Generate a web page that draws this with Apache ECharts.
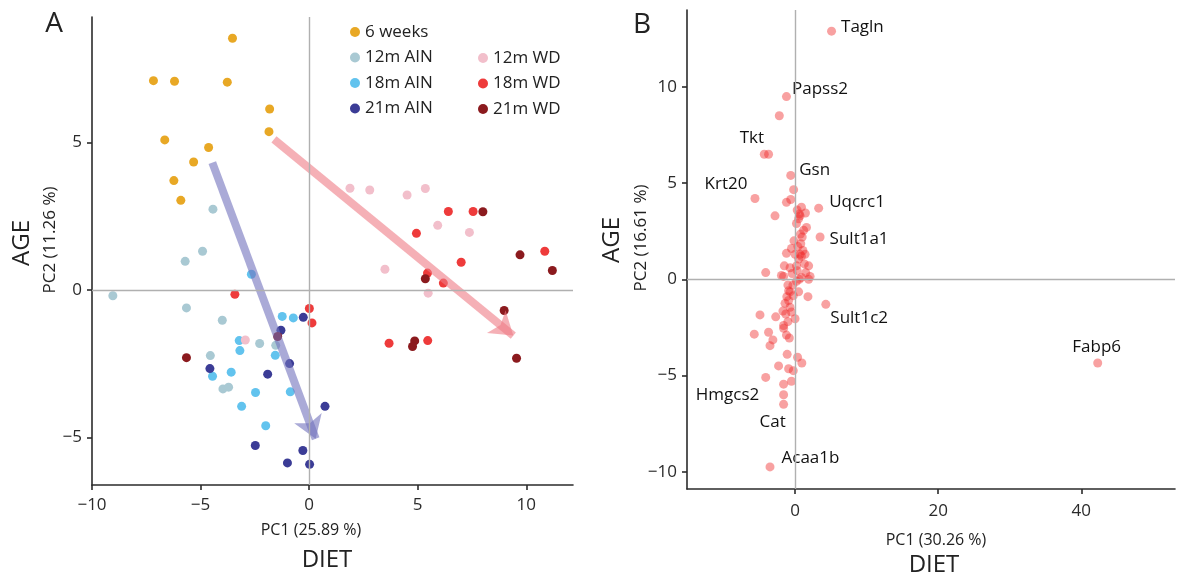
<!DOCTYPE html>
<html><head><meta charset="utf-8">
<script src="https://cdn.jsdelivr.net/npm/echarts@6/dist/echarts.min.js"></script>
<style>html,body{margin:0;padding:0;background:#fff}#c{width:1180px;height:576px}</style>
</head><body><div id="c"></div>
<script>
// ---------- Panel A data (samples) ----------
const groupNames = ['6 weeks','12m AIN','18m AIN','21m AIN','12m WD','18m WD','21m WD'];
const weeks6X = [-3.53,-7.17,-6.20,-3.77,-1.82,-1.85,-6.65,-4.63,-5.32,-6.23,-5.91];
const weeks6Y = [8.54,7.10,7.08,7.05,6.14,5.37,5.09,4.83,4.34,3.71,3.04];
const ain12X = [-4.43,-4.91,-5.71,-9.04,-5.65,-4.00,-2.28,-1.54,-4.55,-3.97,-3.71];
const ain12Y = [2.74,1.31,0.97,-0.20,-0.61,-1.03,-1.82,-1.88,-2.23,-3.36,-3.30];
const ain18X = [-2.66,-1.24,-0.73,-3.22,-3.19,-1.56,-3.59,-4.45,-2.47,-0.87,-3.11,-2.00];
const ain18Y = [0.53,-0.90,-0.95,-1.72,-2.06,-2.22,-2.79,-2.93,-3.48,-3.46,-3.95,-4.61];
const ain21X = [-0.27,-1.30,-0.90,-4.57,-1.91,0.73,-2.48,-0.29,-1.00,0.02];
const ain21Y = [-0.93,-1.37,-2.50,-2.67,-2.86,-3.95,-5.28,-5.45,-5.87,-5.92];
const wd12X = [1.88,2.79,4.51,5.35,5.92,7.38,3.49,5.48,-2.94];
const wd12Y = [3.45,3.39,3.22,3.44,2.19,1.95,0.70,-0.11,-1.70];
const wd18X = [6.41,7.55,4.94,7.00,10.85,5.45,6.18,3.68,5.46,-3.42,0.01,0.13];
const wd18Y = [2.66,2.66,1.92,0.94,1.31,0.57,0.23,-1.81,-1.72,-0.15,-0.63,-1.12];
const wd21X = [8.00,9.71,11.20,5.35,8.98,9.55,4.86,4.76,-5.65,-1.45];
const wd21Y = [2.65,1.19,0.66,0.38,-0.70,-2.32,-1.73,-1.92,-2.30,-1.58];
// trend arrows (from -> to)
const ainArrow = [[-4.46,4.32],[0.30,-5.05]];
const wdArrow = [[-1.62,5.11],[9.40,-1.55]];
// ticks
const ticksAX = [-10,-5,0,5,10];
const ticksAY = [-5,0,5];

// ---------- Panel B data (genes) ----------
const geneNames = ['Tagln','Papss2','Tkt','Gsn','Krt20','Uqcrc1','Sult1a1','Sult1c2','Fabp6','Hmgcs2','Cat','Acaa1b'];
const geneX = [5.1,-1.2,-3.7,-0.6,-5.6,3.3,3.5,4.3,42.3,-4.1,-1.6,-3.5];
const geneY = [12.9,9.5,6.5,5.4,4.2,3.7,2.2,-1.3,-4.35,-5.1,-6.5,-9.75];
const otherGeneX = [-2.2,-4.3,-0.2,-2.8,-4.1,-1.2,-0.6,0.9,0.3,1.45,0.5,1.6,1.2,0.75,-0.15,0.8,1.1,-1.2,0.0,0.5,1.3,1.9,-1.5,-0.7,-1.9,2.1,-1.6,0.9,1.9,
  -0.7,0.5,-1.15,-0.25,1.8,-1.4,-0.7,-1.7,-2.7,0.0,-4.9,-1.6,-1.6,-5.7,-3.7,-3.1,-3.5,-0.8,-1.1,0.35,0.95,-2.3,-0.9,-0.25,-0.5,-1.6,-1.6,
  -1.0,-0.3,-1.3,-1.0,-0.9,0.3,0.7,-0.5,
  0.6,0.2,1.0,0.4,0.9,0.2,1.4,-0.4,0.6,-0.9,-0.5,-1.2,0.2,0.7,1.5];
const otherGeneY = [8.5,6.5,4.66,3.3,0.35,4.0,4.15,3.75,3.6,3.45,3.15,2.7,2.55,2.35,2.0,1.85,1.5,1.35,1.3,1.05,0.8,0.7,0.7,0.6,0.2,0.15,0.15,0.1,0.0,
  -0.65,-0.65,-0.9,-0.85,-0.9,-1.25,-1.45,-1.65,-1.95,-2.05,-1.85,-2.4,-2.55,-2.85,-2.75,-3.15,-3.45,-3.05,-3.9,-4.05,-4.35,-4.5,-4.65,-4.75,-5.3,-5.45,-6.0,
  -0.3,-0.3,-1.8,-2.2,-1.1,0.45,1.3,1.6,
  3.4,2.9,2.2,1.7,1.2,0.7,1.3,0.3,0.0,-0.6,-1.7,-2.9,-0.1,3.3,0.35];
const ticksBX = [0,20,40];
const ticksBY = [-10,-5,0,5,10];

// ---------- styling ----------
const FF = '"Open Sans", "Noto Sans", sans-serif';
const groupColors = ['#E8A825','#A9C9D3','#62C3EE','#3B3C96','#F2BFCB','#EE3B3B','#8B1A1E'];
const groupXs = [weeks6X, ain12X, ain18X, ain21X, wd12X, wd18X, wd21X];
const groupYs = [weeks6Y, ain12Y, ain18Y, ain21Y, wd12Y, wd18Y, wd21Y];
const labelPlacement = {
  Tagln:{position:'right',offset:[0,-4]},
  Papss2:{position:'right',offset:[-4,-7]},
  Tkt:{position:'left',offset:[5,-16]},
  Gsn:{position:'right',offset:[-1,-5]},
  Krt20:{position:'left',offset:[2,-14]},
  Uqcrc1:{position:'right',offset:[1,-6]},
  Sult1a1:{position:'right',offset:[0,2]},
  Sult1c2:{position:'right',offset:[-5,14]},
  Fabp6:{position:'top',offset:[-1,2]},
  Hmgcs2:{position:'left',offset:[3,18]},
  Cat:{position:'bottom',offset:[-11,0]},
  Acaa1b:{position:'right',offset:[2,-9]}
};
const minusFmt = v => String(v).replace('-', '\u2212');
const zip = (xs, ys) => xs.map((x, i) => [x, ys[i]]);

function axis(gridIndex, min, max, ticks, margin) {
  return {
    gridIndex, type:'value', min, max,
    axisLine:{show:true, onZero:false, lineStyle:{color:'#2b2b2b', width:1.6}},
    axisTick:{show:true, length:5, inside:false, customValues:ticks, lineStyle:{color:'#2b2b2b', width:1.6}},
    axisLabel:{customValues:ticks, margin, fontSize:17, color:'#2a2a2a', fontFamily:FF, formatter:minusFmt},
    splitLine:{show:false}
  };
}
const zeroLines = {
  silent:true, symbol:'none', label:{show:false},
  lineStyle:{color:'#b0b0b0', width:1.4, type:'solid'},
  data:[{xAxis:0},{yAxis:0}], animation:false
};

const series = [];
groupNames.forEach((name, i) => {
  const s = {
    name, type:'scatter', xAxisIndex:0, yAxisIndex:0,
    symbolSize:9, itemStyle:{color:groupColors[i], opacity:1},
    data: zip(groupXs[i], groupYs[i]), z:3
  };
  if (i === 0) s.markLine = zeroLines;
  series.push(s);
});
function arrowSeries(name, pts, color) {
  return {
    name, type:'lines', coordinateSystem:'cartesian2d', xAxisIndex:0, yAxisIndex:0,
    polyline:false, silent:true, z:4,
    symbol:['none','arrow'], symbolSize:[0,22],
    lineStyle:{color, width:8, opacity:0.6, curveness:0},
    data:[{coords:pts}]
  };
}
series.push(arrowSeries('ainTrend', ainArrow, '#7272BC'));
series.push(arrowSeries('wdTrend', wdArrow, '#EE7C86'));

const geneColor = 'rgba(238,40,40,0.55)';
series.push({
  name:'genes', type:'scatter', xAxisIndex:1, yAxisIndex:1, symbolSize:9,
  itemStyle:{color:geneColor}, data: zip(otherGeneX, otherGeneY), markLine: zeroLines, z:3
});
series.push({
  name:'labeled genes', type:'scatter', xAxisIndex:1, yAxisIndex:1, symbolSize:9,
  itemStyle:{color:geneColor}, z:3,
  label:{show:true, formatter:'{b}', fontSize:17, color:'#111', opacity:1, fontFamily:FF},
  data: geneNames.map((n, i) => ({
    name:n, value:[geneX[i], geneY[i]],
    label:Object.assign({}, labelPlacement[n])
  }))
});

const txt = (t, x, y, size, rot) => ({
  type:'text', x, y, rotation: rot || 0, silent:true,
  style:{text:t, font:size + 'px ' + FF, fill:'#222', textAlign:'center', textVerticalAlign:'middle'}
});

const legendBase = {
  orient:'vertical', icon:'circle', itemWidth:10, itemHeight:10, itemGap:8.5, padding:0,
  selectedMode:false, textStyle:{fontSize:17, color:'#222', fontFamily:FF}
};

const chart = echarts.init(document.getElementById('c'), null, {renderer:'canvas'});
chart.setOption({
  animation:false,
  backgroundColor:'#fff',
  grid:[
    {left:92, top:17, width:481, height:468},
    {left:687, top:10, width:488, height:479}
  ],
  xAxis:[ axis(0, -10, 12.15, ticksAX, 12), axis(1, -15.1, 53.1, ticksBX, 14) ],
  yAxis:[ axis(0, -6.62, 9.26, ticksAY, 10), axis(1, -10.9, 14, ticksBY, 10) ],
  legend:[
    Object.assign({}, legendBase, {data:groupNames.slice(0,4), left:350, top:23.5}),
    Object.assign({}, legendBase, {data:groupNames.slice(4), left:478, top:49.5})
  ],
  graphic:[
    txt('A', 54, 24, 28), txt('B', 642, 25, 28),
    txt('PC1 (25.89 %)', 311, 530, 16), txt('DIET', 327, 560, 24),
    txt('PC2 (11.26 %)', 50, 240, 17, Math.PI/2), txt('AGE', 22, 243, 24, Math.PI/2),
    txt('PC1 (30.26 %)', 936, 540, 16), txt('DIET', 934, 565, 24),
    txt('PC2 (16.61 %)', 641, 238, 17, Math.PI/2), txt('AGE', 612, 240, 24, Math.PI/2)
  ],
  series
});
</script></body></html>
